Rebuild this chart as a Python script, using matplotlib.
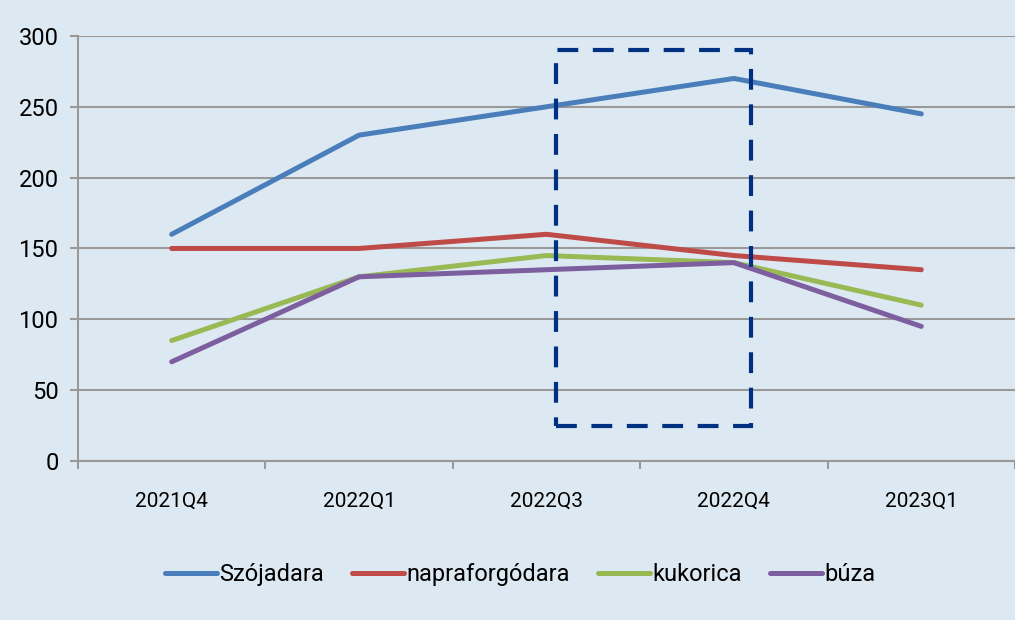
import matplotlib
matplotlib.use('Agg')
import matplotlib.pyplot as plt
from matplotlib.patches import Rectangle

plt.rcParams['font.family'] = ['Roboto', 'DejaVu Sans']

# data
quarters = ['2021Q4', '2022Q1', '2022Q3', '2022Q4', '2023Q1']
szojadara = [160, 230, 250, 270, 245]
napraforgodara = [150, 150, 160, 145, 135]
kukorica = [85, 130, 145, 140, 110]
buza = [70, 130, 135, 140, 95]

series = [
    ('Szójadara', szojadara, '#4A7EBB'),
    ('napraforgódara', napraforgodara, '#BE4B48'),
    ('kukorica', kukorica, '#98B954'),
    ('búza', buza, '#7D5FA0'),
]

bg = '#DDE9F2'
fig = plt.figure(figsize=(10.15, 6.2), dpi=100, facecolor=bg)
ax = fig.add_axes([0.0768, 0.2565, 0.9232, 0.6855], facecolor=bg)

x = range(len(quarters))
for name, vals, col in series:
    ax.plot(x, vals, color=col, lw=3.6, label=name, solid_capstyle='round')

# highlighted period
ax.add_patch(Rectangle((2.05, 25), 1.04, 265, fill=False, edgecolor='#003082',
                       lw=3, linestyle=(0, (5, 3.5)), zorder=5))

ax.set_xlim(-0.5, 4.5)
ax.set_ylim(0, 300)
ax.set_yticks(range(0, 301, 50))
ax.set_xticks(list(x))
ax.set_xticklabels(quarters)
ax.set_xticks([i - 0.5 for i in range(6)], minor=True)
ax.grid(axis='y', color='#999999', lw=1.5)
ax.set_axisbelow(True)
for s in ['top', 'right']:
    ax.spines[s].set_visible(False)
for s in ['left', 'bottom']:
    ax.spines[s].set_color('#999999')
    ax.spines[s].set_linewidth(1.5)
ax.tick_params(axis='y', labelsize=17, color='#999999', length=6, width=1.5, pad=8)
ax.tick_params(axis='x', which='major', length=0, labelsize=15, pad=22)
ax.tick_params(axis='x', which='minor', color='#999999', length=6, width=1.5)

ax.legend(loc='center', bbox_to_anchor=(0.472, -0.268), ncol=4, frameon=False,
          fontsize=17, handlelength=2.2, handletextpad=0.1, columnspacing=1.2)

fig.savefig('out.png', dpi=100, facecolor=bg)
